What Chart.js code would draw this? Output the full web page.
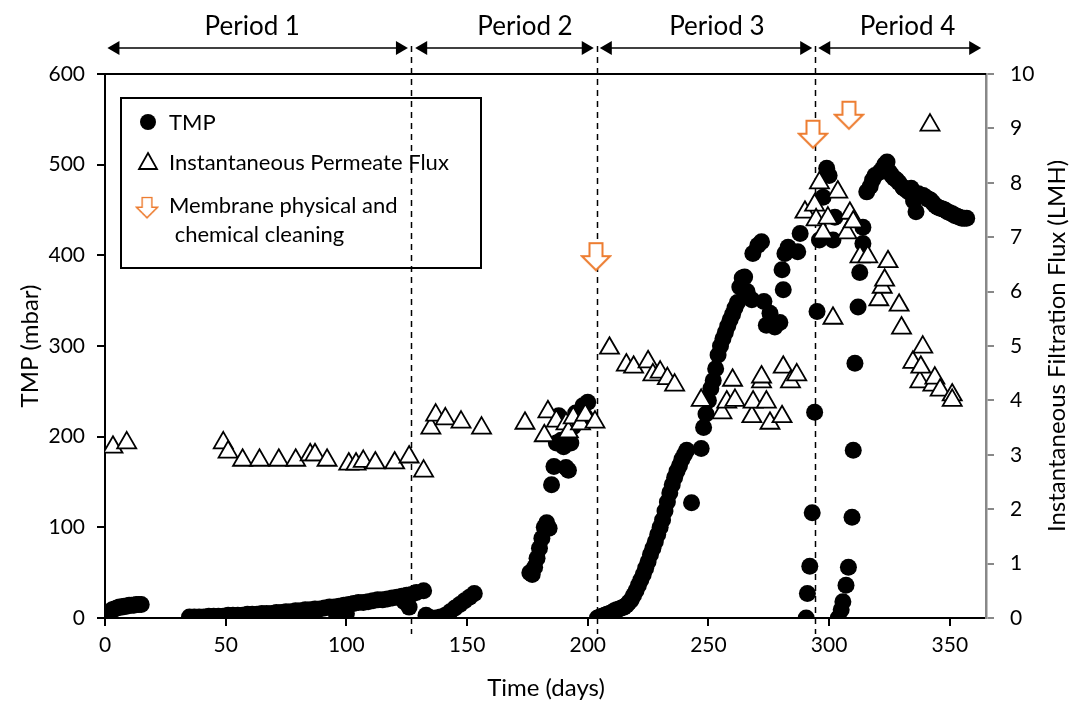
<!DOCTYPE html>
<html>
<head>
<meta charset="utf-8">
<script src="https://cdn.jsdelivr.net/npm/chart.js@4.4.0/dist/chart.umd.min.js"></script>
<style>
  html, body { margin: 0; padding: 0; background: #fff; }
  #wrap { width: 1074px; height: 704px; position: relative; }
</style>
</head>
<body>
<div id="wrap"><canvas id="chart"></canvas></div>
<script>
// TMP (mbar) readings
const tmpDays = [
  1, 2, 3, 4, 5, 6, 7, 8, 9, 10, 11, 12, 13, 14, 15,
  35, 37, 39, 41, 43, 45, 47, 49, 51, 53, 55, 57, 59, 61, 63, 65, 67, 69, 71, 73,
  75, 77, 79, 81, 83, 85, 87, 89, 91, 93, 95, 96, 97, 99, 100, 101, 103, 105, 107,
  109, 111, 113, 115, 117, 119, 121, 123, 124, 125, 126, 127, 129, 132,
  133, 134, 135, 137, 139, 141, 143, 145, 147, 149, 151, 153,
  176, 177, 178, 179, 180, 181, 182, 183, 184, 185, 186, 187, 188, 189, 190, 191,
  192, 193, 194, 195, 197, 198, 199, 200,
  204, 205, 206, 207, 208, 209, 210, 211, 212, 213, 214, 215, 216, 217, 218, 219,
  220, 221, 222, 223, 224, 225, 226, 227, 228, 229, 230, 231, 232, 233, 234, 235,
  236, 237, 238, 239, 240, 241, 243, 247, 248, 249, 250, 251, 252, 253, 254, 255,
  256, 257, 258, 259, 260, 261, 262, 263, 264, 265, 266,
  268, 268.4, 270.5, 272, 273, 274, 275.5, 277.5, 279.6, 280.5, 281, 281.7, 283, 287, 288,
  290.5, 291, 292, 293, 294, 295, 296, 297.5, 299, 300, 301.6, 302.4,
  303.8, 305, 305.7, 307, 308, 309.5, 310, 310.7, 312, 312.7, 314, 314,
  315.6, 317, 318, 319, 321, 322, 323, 324, 325, 326, 327, 328, 329, 330.6, 331,
  332, 333, 334, 335, 336, 337, 338, 339, 340, 341, 342, 343, 344, 345, 346, 347,
  348, 349, 350, 351, 352, 353, 354, 355, 356, 357
];
const tmpValues = [
  5, 7, 9, 10, 11, 12, 12, 13, 13, 14, 14, 14, 15, 15, 15,
  1, 1, 1, 1, 2, 2, 2, 2, 3, 3, 3, 3, 4, 4, 4, 5, 5, 5, 6, 6,
  7, 7, 8, 8, 9, 9, 10, 10, 11, 12, 12, 3, 13, 14, 5, 15, 16, 17, 17,
  18, 19, 20, 20, 21, 22, 23, 24, 18, 25, 12, 26, 28, 30,
  3, 1, 0, 0, 1, 3, 7, 11, 15, 19, 23, 27,
  50, 48, 56, 66, 77, 88, 100, 105, 99, 147, 167, 193, 223, 196, 189, 166,
  163, 193, 211, 226, 227, 234, 222, 238,
  0, 1, 2, 3, 4, 5, 6, 8, 9, 10, 11, 12, 14, 17, 20, 25,
  30, 36, 42, 48, 55, 62, 70, 77, 84, 92, 100, 108, 118, 128, 138, 147,
  155, 162, 168, 175, 180, 185, 127, 187, 210, 225, 240, 253, 262, 275, 290, 300,
  308, 315, 322, 329, 335, 342, 348, 365, 375, 376, 360,
  351, 402, 411, 415, 349, 323, 336, 321, 326, 384, 362, 402, 409, 404, 424,
  0, 27, 57, 116, 227, 338, 417, 464, 496, 488, 417, 442,
  0, 9, 18, 36, 56, 111, 185, 281, 343, 381, 413, 431,
  470, 476, 483, 488, 492, 495, 500, 503, 492, 488, 485, 483, 480, 475, 474,
  472, 470, 474, 460, 448, 468, 466, 466, 464, 462, 461, 458, 455, 453, 452, 451,
  450, 448, 447, 446, 444, 443, 442, 441, 441, 441
];

// Instantaneous permeate flux (LMH)
const fluxDays = [
  3.3, 9, 49, 51, 57, 64, 72, 79, 85, 87, 92, 101, 104, 107, 112, 120, 126, 132,
  135, 137, 141, 147.5, 156, 174, 182, 183.5, 187, 191, 192, 194, 197, 199, 203,
  209, 216, 219, 225, 227, 230, 233, 236, 247, 255.6, 257.6, 260, 261,
  268, 268.5, 272, 272, 274, 275.5, 280.5, 281, 284, 286.6,
  290, 294, 294.6, 296, 297.5, 299.5, 301.6, 303.6, 307.4, 308.6, 310,
  312.8, 316, 320.6, 322, 323, 324.4, 329, 330, 334.7, 337.6, 338, 338.8,
  341.8, 343, 343.8, 346, 351, 351
];
const fluxValues = [
  3.14, 3.22, 3.22, 3.05, 2.9, 2.9, 2.9, 2.9, 3.0, 3.0, 2.9, 2.83, 2.83, 2.88, 2.85, 2.85, 2.96, 2.7,
  3.49, 3.73, 3.66, 3.6, 3.49, 3.58, 3.35, 3.79, 3.62, 3.57, 3.42, 3.68, 3.57, 3.73, 3.6,
  4.96, 4.65, 4.61, 4.71, 4.47, 4.52, 4.4, 4.28, 4.0, 3.77, 3.97, 4.37, 4.0,
  3.7, 3.97, 4.34, 4.43, 3.97, 3.58, 3.7, 4.61, 4.34, 4.47,
  7.46, 7.59, 7.32, 8.0, 7.08, 7.35, 5.51, 7.83, 7.08, 7.44, 7.28,
  6.64, 6.64, 5.85, 6.08, 6.21, 6.55, 5.75, 5.33, 4.7, 4.34, 4.61, 4.98,
  9.06, 4.28, 4.41, 4.19, 4.1, 4.0
];

// Membrane cleaning events (day, TMP position of marker)
const cleaningDays = [203.4, 293.3, 308.2];
const cleaningLevels = [398, 533, 554];

// Period boundaries (days) and labels
const periodNames = ["Period 1", "Period 2", "Period 3", "Period 4"];
const periodStart = [1, 128.5, 205, 295.5];
const periodEnd = [125.5, 202.5, 293, 363];
const periodLabelAt = [61, 174, 253.5, 332.5];
const dividerDays = [126.8, 203.8, 294];

const FONT = "Lato, 'Liberation Sans', sans-serif";
const ORANGE = "#ED7D31";

// hollow orange down arrow used for cleaning markers
function makeArrow() {
  const c = document.createElement("canvas");
  c.width = 32; c.height = 32;
  const g = c.getContext("2d");
  g.beginPath();
  g.moveTo(9.5, 2);
  g.lineTo(22.5, 2);
  g.lineTo(22.5, 15);
  g.lineTo(30, 15);
  g.lineTo(16, 29);
  g.lineTo(2, 15);
  g.lineTo(9.5, 15);
  g.closePath();
  g.fillStyle = "#fff";
  g.fill();
  g.lineWidth = 2;
  g.strokeStyle = ORANGE;
  g.stroke();
  return c;
}
const arrowImg = makeArrow();

const toXY = (xs, ys) => xs.map((x, i) => ({ x: x, y: ys[i] }));

// dashed dividers, top border, period arrows, legend, axis titles
const decorations = {
  id: "decorations",
  beforeDatasetsDraw(chart) {
    const ctx = chart.ctx;
    const x = chart.scales.x;
    ctx.save();
    ctx.strokeStyle = "#000";
    ctx.lineWidth = 1.5;
    ctx.setLineDash([6, 5]);
    dividerDays.forEach(d => {
      const px = Math.round(x.getPixelForValue(d)) + 0.5;
      ctx.beginPath();
      ctx.moveTo(px, 46);
      ctx.lineTo(px, 634);
      ctx.stroke();
    });
    ctx.restore();
  },
  afterDraw(chart) {
    const ctx = chart.ctx;
    const x = chart.scales.x;
    const area = chart.chartArea;
    ctx.save();

    // top border
    ctx.strokeStyle = "#000";
    ctx.lineWidth = 2;
    ctx.beginPath();
    ctx.moveTo(area.left - 8, area.top);
    ctx.lineTo(area.right, area.top);
    ctx.stroke();

    // period arrows
    const ay = 48;
    ctx.fillStyle = "#000";
    ctx.lineWidth = 1.5;
    periodNames.forEach((name, i) => {
      const x0 = x.getPixelForValue(periodStart[i]);
      const x1 = x.getPixelForValue(periodEnd[i]);
      ctx.beginPath();
      ctx.moveTo(x0 + 8, ay);
      ctx.lineTo(x1 - 8, ay);
      ctx.stroke();
      ctx.beginPath();
      ctx.moveTo(x0, ay);
      ctx.lineTo(x0 + 12, ay - 7);
      ctx.lineTo(x0 + 12, ay + 7);
      ctx.closePath();
      ctx.fill();
      ctx.beginPath();
      ctx.moveTo(x1, ay);
      ctx.lineTo(x1 - 12, ay - 7);
      ctx.lineTo(x1 - 12, ay + 7);
      ctx.closePath();
      ctx.fill();
      ctx.font = "26px " + FONT;
      ctx.textAlign = "center";
      ctx.textBaseline = "middle";
      ctx.fillText(name, x.getPixelForValue(periodLabelAt[i]), 27);
    });

    // legend box
    ctx.lineWidth = 2;
    ctx.strokeRect(121, 98, 360, 170);
    ctx.beginPath();
    ctx.arc(148, 122, 8, 0, Math.PI * 2);
    ctx.fill();
    ctx.beginPath();
    ctx.moveTo(148, 153);
    ctx.lineTo(157, 169);
    ctx.lineTo(139, 169);
    ctx.closePath();
    ctx.lineWidth = 1.8;
    ctx.stroke();
    ctx.drawImage(arrowImg, 147 - 12, 208 - 12, 24, 24);
    ctx.font = "22px " + FONT;
    ctx.textAlign = "left";
    ctx.textBaseline = "middle";
    ctx.fillText("TMP", 169, 123);
    ctx.fillText("Instantaneous Permeate Flux", 169, 163);
    ctx.fillText("Membrane physical and", 169, 206);
    ctx.fillText(" chemical cleaning", 169, 235);

    // axis titles
    ctx.font = "24px " + FONT;
    ctx.textAlign = "center";
    ctx.fillText("Time (days)", 546, 688);
    ctx.save();
    ctx.translate(30, 346);
    ctx.rotate(-Math.PI / 2);
    ctx.fillText("TMP (mbar)", 0, 0);
    ctx.restore();
    ctx.save();
    ctx.translate(1057, 346);
    ctx.rotate(-Math.PI / 2);
    ctx.fillText("Instantaneous Filtration Flux (LMH)", 0, 0);
    ctx.restore();

    ctx.restore();
  }
};

const tickFont = { family: FONT, size: 21 };

new Chart(document.getElementById("chart"), {
  type: "scatter",
  data: {
    datasets: [
      {
        label: "Membrane physical and chemical cleaning",
        data: toXY(cleaningDays, cleaningLevels),
        yAxisID: "y",
        pointStyle: arrowImg,
        pointRadius: 14,
        order: 0
      },
      {
        label: "Instantaneous Permeate Flux",
        data: toXY(fluxDays, fluxValues),
        yAxisID: "y2",
        pointStyle: "triangle",
        pointRadius: 11,
        pointBackgroundColor: "#fff",
        pointBorderColor: "#000",
        pointBorderWidth: 1.8,
        order: 1
      },
      {
        label: "TMP",
        data: toXY(tmpDays, tmpValues),
        yAxisID: "y",
        pointStyle: "circle",
        pointRadius: 8.5,
        pointBackgroundColor: "#000",
        pointBorderColor: "#000",
        pointBorderWidth: 0,
        order: 2
      }
    ]
  },
  options: {
    responsive: true,
    maintainAspectRatio: false,
    animation: false,
    layout: { padding: { top: 74, left: 0, right: 0, bottom: 0 } },
    plugins: {
      legend: { display: false },
      tooltip: { enabled: false }
    },
    scales: {
      x: {
        type: "linear",
        min: 0,
        max: 365,
        ticks: { stepSize: 50, includeBounds: false, color: "#000", font: tickFont, padding: 7, maxRotation: 0, autoSkip: false },
        grid: { drawOnChartArea: false, drawTicks: true, tickLength: 8, color: "#000", lineWidth: 2 },
        border: { color: "#000", width: 2 },
        afterFit: s => { s.height = 86; }
      },
      y: {
        position: "left",
        min: 0,
        max: 600,
        ticks: { stepSize: 100, color: "#000", font: tickFont, padding: 12 },
        grid: { drawOnChartArea: false, drawTicks: true, tickLength: 8, color: "#000", lineWidth: 2 },
        border: { color: "#000", width: 2 },
        afterFit: s => { s.width = 105; }
      },
      y2: {
        position: "right",
        min: 0,
        max: 10,
        ticks: { stepSize: 1, color: "#000", font: tickFont, padding: 16 },
        grid: { drawOnChartArea: false, drawTicks: true, tickLength: 8, color: "#888", lineWidth: 2 },
        border: { color: "#888", width: 2.5 },
        afterFit: s => { s.width = 88; }
      }
    }
  },
  plugins: [decorations]
});
</script>
</body>
</html>
